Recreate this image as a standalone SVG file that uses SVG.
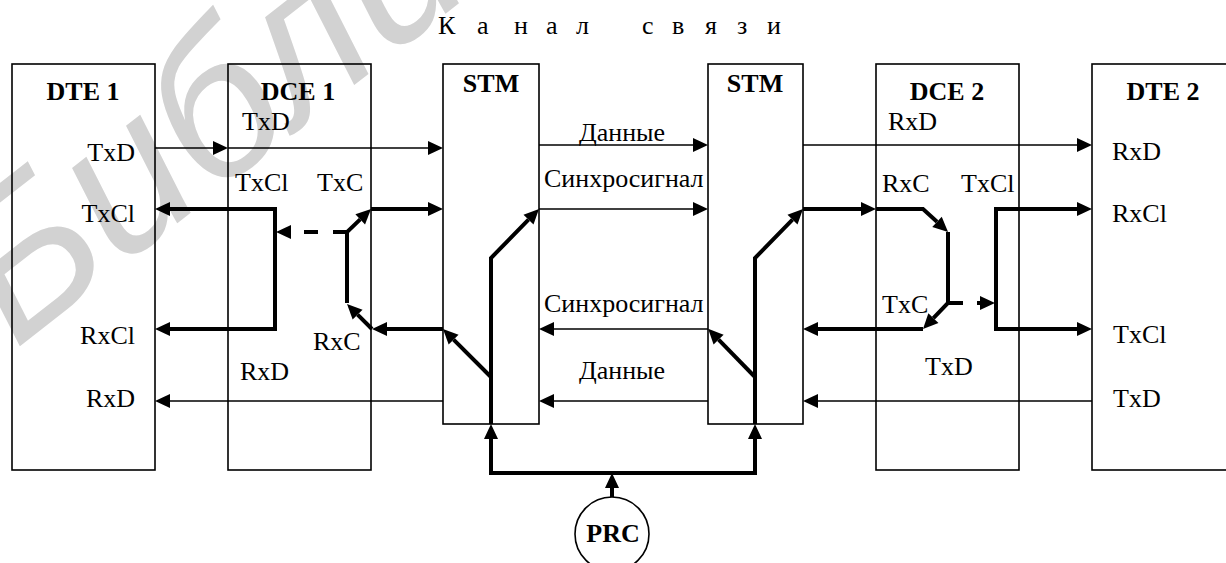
<svg xmlns="http://www.w3.org/2000/svg" width="1226" height="563" viewBox="0 0 1226 563">
  <style>
    .box { fill: none; stroke: #000; stroke-width: 1.6; }
    .lbl { font-family: 'Liberation Serif', 'DejaVu Serif', serif; font-size: 26px; fill: #000; }
    .hdr { font-family: 'Liberation Serif', 'DejaVu Serif', serif; font-size: 26px; font-weight: bold; fill: #000; text-anchor: middle; }
    .thin { fill: none; stroke: #000; stroke-width: 1.6; marker-end: url(#ah); }
    .thick { fill: none; stroke: #000; stroke-width: 4; stroke-linejoin: miter; }
    .wm { font-family: 'Liberation Sans', sans-serif; font-style: italic; font-size: 205px; fill: #d2d2d2; }
  </style>
  <defs>
    <marker id="ah" markerUnits="userSpaceOnUse" markerWidth="16" markerHeight="14" viewBox="0 0 16 14" refX="0" refY="7" orient="auto-start-reverse" overflow="visible">
      <path d="M0,0 L15,7 L0,14 z" fill="#000"/>
    </marker>
  </defs>
  <rect width="1226" height="563" fill="#fff"/>

  <!-- library watermark -->
  <text class="wm" transform="translate(15,350) rotate(-38)">Библиотека</text>

  <!-- title -->
  <text class="lbl" y="34" x="438 477 514 546 576 605 642 672 705 737 767">Канал связи</text>

  <g id="dte1">
    <rect class="box" x="12" y="64" width="143" height="406"/>
    <text class="hdr" x="83" y="100">DTE 1</text>
    <g class="lbl" text-anchor="end">
      <text x="135" y="161">TxD</text>
      <text x="135" y="222">TxCl</text>
      <text x="135" y="344">RxCl</text>
      <text x="135" y="407">RxD</text>
    </g>
  </g>

  <g id="dce1">
    <rect class="box" x="228" y="64" width="143" height="406"/>
    <text class="hdr" x="298" y="100">DCE 1</text>
    <text class="lbl" x="242" y="130">TxD</text>
    <text class="lbl" x="235" y="191">TxCl</text>
    <text class="lbl" x="317" y="191">TxC</text>
    <text class="lbl" x="313" y="350">RxC</text>
    <text class="lbl" x="240" y="380">RxD</text>
  </g>

  <g id="stm1">
    <rect class="box" x="443" y="64" width="96" height="360"/>
    <text class="hdr" x="491" y="92">STM</text>
  </g>

  <g id="stm2">
    <rect class="box" x="708" y="64" width="95" height="360"/>
    <text class="hdr" x="755" y="92">STM</text>
  </g>

  <g id="dce2">
    <rect class="box" x="876" y="64" width="143" height="406"/>
    <text class="hdr" x="947" y="100">DCE 2</text>
    <text class="lbl" x="888" y="130">RxD</text>
    <text class="lbl" x="882" y="192">RxC</text>
    <text class="lbl" x="961" y="192">TxCl</text>
    <text class="lbl" x="882" y="313">TxC</text>
    <text class="lbl" x="925" y="375">TxD</text>
  </g>

  <g id="dte2">
    <rect class="box" x="1092" y="64" width="143" height="406"/>
    <text class="hdr" x="1163" y="100">DTE 2</text>
    <text class="lbl" x="1112" y="160">RxD</text>
    <text class="lbl" x="1112" y="222">RxCl</text>
    <text class="lbl" x="1113" y="343">TxCl</text>
    <text class="lbl" x="1113" y="407">TxD</text>
  </g>

  <g id="prc">
    <circle class="box" cx="612" cy="534" r="37"/>
    <text class="hdr" x="613" y="542">PRC</text>
  </g>

  <g id="channel-labels" class="lbl">
    <text x="579" y="141">Данные</text>
    <text x="544" y="187">Синхросигнал</text>
    <text x="544" y="312">Синхросигнал</text>
    <text x="579" y="379">Данные</text>
  </g>

  <g id="connectors">
    <!-- data lines -->
    <path class="thin" d="M155,148 H213"/>
    <path class="thin" d="M228,148 H428"/>
    <path class="thin" d="M539,145 H693"/>
    <path class="thin" d="M803,145 H1077"/>
    <path class="thin" d="M708,401 H554"/>
    <path class="thin" d="M443,401 H170"/>
    <path class="thin" d="M1092,401 H818"/>
    <!-- clock between multiplexers -->
    <path class="thin" d="M539,209 H693"/>
    <path class="thin" d="M708,329 H554"/>

    <!-- DCE 1 clock paths -->
    <path class="thick" d="M170,209 H275 V329 H170" marker-start="url(#ah)" marker-end="url(#ah)"/>
    <path class="thick" d="M347,232 H291" stroke-dasharray="14 15" marker-end="url(#ah)"/>
    <path class="thick" d="M347,303 V232 L360.2,219.4" marker-end="url(#ah)"/>
    <path class="thick" d="M371,209 H428" marker-end="url(#ah)"/>
    <path class="thick" d="M443,329 H387" marker-end="url(#ah)"/>
    <path class="thick" d="M372,329 L357.6,314.6" marker-end="url(#ah)"/>

    <!-- STM 1 clock -->
    <path class="thick" d="M491,424 V258 L528.5,219.7" marker-end="url(#ah)"/>
    <path class="thick" d="M491,377 L453.6,339.6" marker-end="url(#ah)"/>

    <!-- PRC distribution -->
    <path class="thick" d="M612,497 V488" marker-end="url(#ah)"/>
    <path class="thick" d="M491,439 V473 H755 V439" marker-start="url(#ah)" marker-end="url(#ah)"/>

    <!-- STM 2 clock -->
    <path class="thick" d="M755,424 V258 L792.5,219.7" marker-end="url(#ah)"/>
    <path class="thick" d="M755,377 L718.6,339.6" marker-end="url(#ah)"/>

    <!-- DCE 2 clock paths -->
    <path class="thick" d="M803,209 H861" marker-end="url(#ah)"/>
    <path class="thick" d="M876,209 H923 L937,221.8" marker-end="url(#ah)"/>
    <path class="thick" d="M948,232 V303 L933.4,318.2" marker-end="url(#ah)"/>
    <path class="thick" d="M948,303 H963"/>
    <path class="thick" d="M977,303 H980" marker-end="url(#ah)"/>
    <path class="thick" d="M923,329 H818" marker-end="url(#ah)"/>
    <path class="thick" d="M1077,209 H996 V329 H1077" marker-start="url(#ah)" marker-end="url(#ah)"/>
  </g>
</svg>
